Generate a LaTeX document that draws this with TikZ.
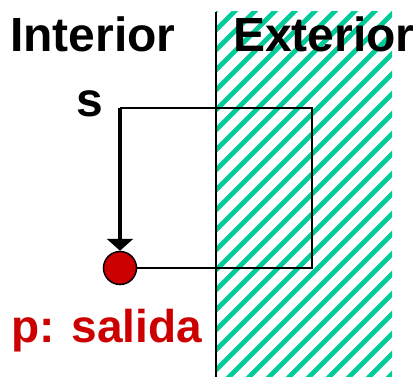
\documentclass[tikz,border=0pt]{standalone}
\usepackage{fontspec}
\setmainfont{Liberation Sans}
\usetikzlibrary{arrows.meta}
\definecolor{franja}{RGB}{0,204,153}
\definecolor{rojo}{RGB}{204,0,0}
\tikzset{
  >={Triangle[length=12pt,width=26pt]},
  lbl/.style={anchor=base west,inner sep=0pt,font=\fontsize{48}{50}\selectfont\bfseries},
  pt/.style={circle,draw,fill=rojo,minimum size=33pt,inner sep=0pt,line width=1.5pt},
  fr/.style={franja,line width=4.8pt},
  every picture/.style={line width=2pt},
}
\begin{document}
\begin{tikzpicture}[x=1pt,y=-1pt]
\useasboundingbox (0,0) rectangle (418,377);
\begin{scope}
\clip (216,12) rectangle (392,377);
\foreach \i in {-204,-184,...,420} \draw[fr] (\i,390)--(\i+400,-10);
\end{scope}
\draw (216,12)--(216,377);
\node[lbl] (int) at (9,52) {Interior}; \node[lbl] (ext) at (232,52) {Exterior};
\coordinate (s) at (120,108); \coordinate (q) at (312,108);
\node[lbl] (sl) at (75,117) {s};
\node[pt] (p) at (120,268) {};
\node[lbl,text=rojo,font=\fontsize{46}{48}\selectfont\bfseries] (pl) at (10,342) {p: salida};
\draw (p) -| (q) -- (s);
\draw[->,line width=4pt] (s) -- (p);
\end{tikzpicture}
\end{document}
